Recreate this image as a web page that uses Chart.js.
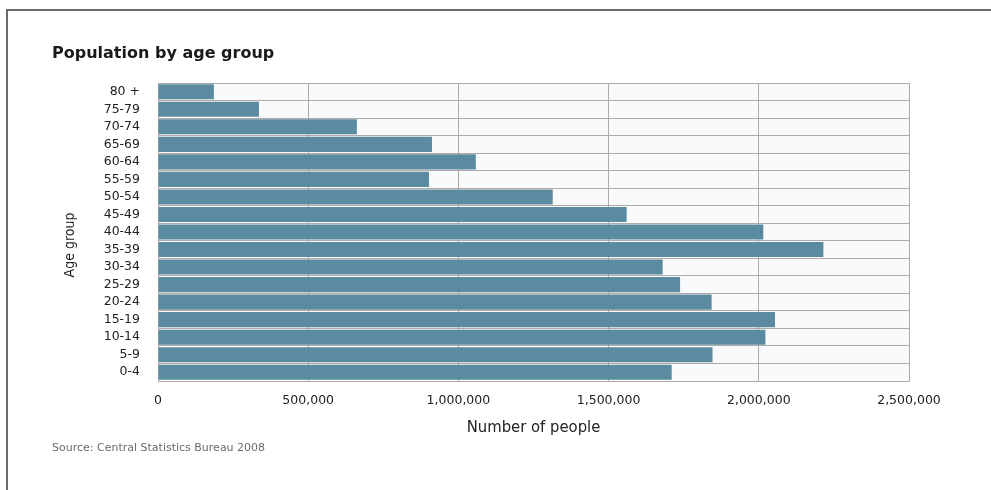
<!DOCTYPE html>
<html>
<head>
<meta charset="utf-8">
<title>Population by age group</title>
<script src="https://cdn.jsdelivr.net/npm/chart.js@4/dist/chart.umd.min.js"></script>
<style>
    html, body { margin: 0; padding: 0; background: #ffffff; }
    #wrap { width: 991px; height: 490px; position: relative; }
</style>
</head>
<body>
<div id="wrap"><canvas id="popChart"></canvas></div>
<script>
// data
const ageGroups = ['0-4', '5-9', '10-14', '15-19', '20-24', '25-29', '30-34', '35-39', '40-44',
    '45-49', '50-54', '55-59', '60-64', '65-69', '70-74', '75-79', '80 +'];
const people = [1710000, 1846000, 2022000, 2054000, 1843000, 1738000, 1680000, 2215000, 2015000,
    1560000, 1314000, 902000, 1058000, 912000, 662000, 336000, 186000];
const xTicks = [0, 500000, 1000000, 1500000, 2000000, 2500000];

const barColor = '#5a8ba1';
const gridColor = '#b0aaa7';

// frame, heading, y title and source note
const decorations = {
    id: 'decorations',
    beforeDraw(chart) {
        const { ctx, chartArea } = chart;
        ctx.save();
        ctx.fillStyle = '#f9fafb';
        ctx.fillRect(chartArea.left, chartArea.top, chartArea.right - chartArea.left, chartArea.bottom - chartArea.top);
        ctx.restore();
    },
    afterDraw(chart) {
        const ctx = chart.ctx;
        ctx.save();
        ctx.strokeStyle = '#6a6a6a';
        ctx.lineWidth = 2;
        ctx.beginPath();
        ctx.moveTo(7, 490);
        ctx.lineTo(7, 10);
        ctx.lineTo(991, 10);
        ctx.stroke();

        ctx.fillStyle = '#1a1a1a';
        ctx.font = 'bold 16px "DejaVu Sans"';
        ctx.textBaseline = 'alphabetic';
        ctx.fillText('Population by age group', 52, 58);

        ctx.fillStyle = '#6b6b6b';
        ctx.font = '11px "DejaVu Sans"';
        ctx.fillText('Source: Central Statistics Bureau 2008', 52, 451);

        ctx.translate(70, 245);
        ctx.rotate(-Math.PI / 2);
        ctx.fillStyle = '#222222';
        ctx.font = '14px "DejaVu Sans Condensed", "DejaVu Sans"';
        ctx.textAlign = 'center';
        ctx.textBaseline = 'middle';
        ctx.fillText('Age group', 0, 0);
        ctx.restore();
    }
};

const ctx = document.getElementById('popChart').getContext('2d');
new Chart(ctx, {
    type: 'bar',
    data: {
        labels: ageGroups,
        datasets: [{
            label: 'Number of people',
            data: people,
            backgroundColor: barColor,
            borderWidth: 0,
            barPercentage: 0.86,
            categoryPercentage: 1.0,
        }],
    },
    options: {
        indexAxis: 'y',
        responsive: true,
        maintainAspectRatio: false,
        animation: false,
        layout: {
            padding: { left: 0, top: 83, right: 82, bottom: 49 },
        },
        plugins: {
            legend: { display: false },
            tooltip: { enabled: false },
        },
        scales: {
            y: {
                reverse: true,
                afterFit(scale) { scale.width = 158; },
                grid: { color: gridColor, lineWidth: 1, drawTicks: false },
                border: { color: gridColor, width: 1 },
                ticks: {
                    padding: 18,
                    color: '#222222',
                    font: { family: '"DejaVu Sans"', size: 12.5 },
                    autoSkip: false,
                },
            },
            x: {
                min: 0,
                max: 2500000,
                afterFit(scale) { scale.height = 60; },
                afterBuildTicks(scale) { scale.ticks = xTicks.map(v => ({ value: v })); },
                grid: { color: gridColor, lineWidth: 1, drawTicks: false },
                border: { color: gridColor, width: 1 },
                ticks: {
                    padding: 12,
                    color: '#222222',
                    font: { family: '"DejaVu Sans"', size: 12.5 },
                    callback: v => v.toLocaleString('en-US'),
                },
                title: {
                    display: true,
                    text: 'Number of people',
                    color: '#222222',
                    font: { family: '"DejaVu Sans Condensed", "DejaVu Sans"', size: 16.5 },
                    padding: { top: 0, bottom: 3 },
                },
            },
        },
    },
    plugins: [decorations],
});
</script>
</body>
</html>
